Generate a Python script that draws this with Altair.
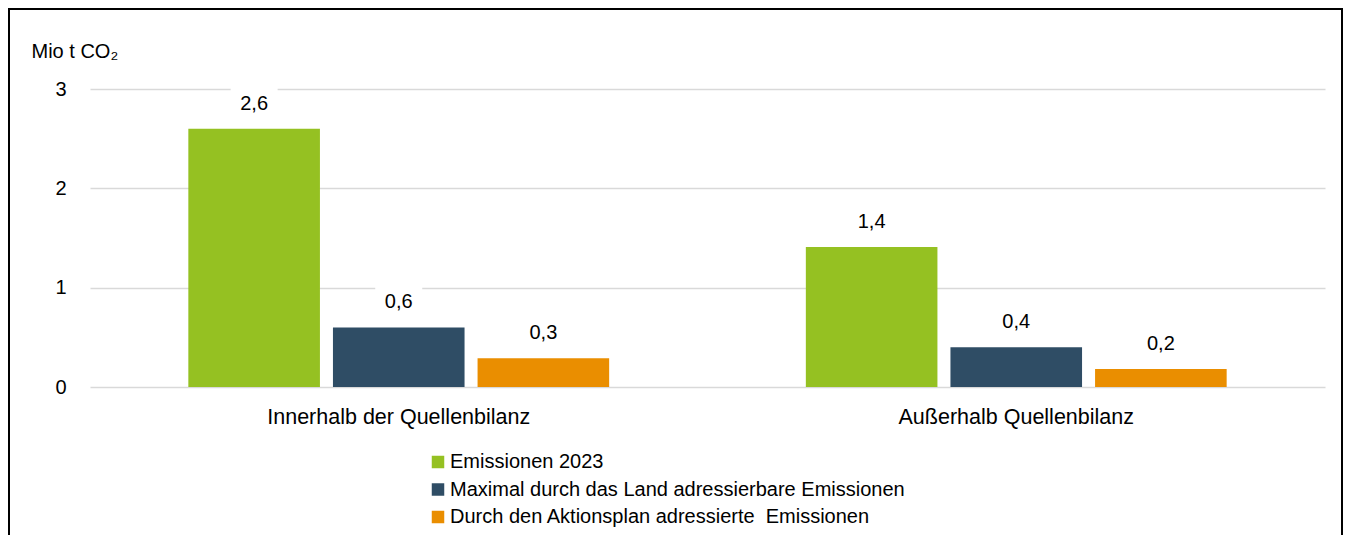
import altair as alt
import pandas as pd

FONT = "Liberation Sans"

categories = ["Innerhalb der Quellenbilanz", "Außerhalb Quellenbilanz"]
series = [
    "Emissionen 2023",
    "Maximal durch das Land adressierbare Emissionen",
    "Durch den Aktionsplan adressierte\u00a0 Emissionen",
]
colors = ["#95C122", "#2F4D65", "#EA8E00"]

values_inner = [2.6, 0.6, 0.29]
values_outer = [1.41, 0.4, 0.18]
labels_inner = ["2,6", "0,6", "0,3"]
labels_outer = ["1,4", "0,4", "0,2"]

rows = []
for cat, vals, labs in [
    (categories[0], values_inner, labels_inner),
    (categories[1], values_outer, labels_outer),
]:
    for s, v, l in zip(series, vals, labs):
        rows.append({"Kategorie": cat, "Reihe": s, "Wert": v, "Label": l})
df = pd.DataFrame(rows)

x_enc = alt.X(
    "Kategorie:N",
    sort=categories,
    scale=alt.Scale(paddingInner=0, paddingOuter=0),
    axis=alt.Axis(
        title=None, labelAngle=0, labelFontSize=21.5, labelPadding=19, labelLimit=0,
        domain=False, ticks=False, labelColor="#000", labelFont=FONT, grid=False,
    ),
)
xo_enc = alt.XOffset(
    "Reihe:N", sort=series, scale=alt.Scale(paddingInner=0.09, paddingOuter=0.68)
)
y_enc = alt.Y(
    "Wert:Q",
    scale=alt.Scale(domain=[0, 3], nice=False),
    axis=alt.Axis(
        values=[0, 1, 2, 3], format="d",
        title="Mio t CO₂", titleAngle=0, titleAlign="left", titleBaseline="alphabetic",
        titleX=-59, titleY=-32, titleFontSize=20, titleFontWeight="normal",
        titleFont=FONT, titleColor="#000",
        labelFontSize=20, labelPadding=24, labelColor="#000", labelFont=FONT,
        domain=False, ticks=False, grid=True, gridColor="#d9d9d9", gridWidth=1.5,
    ),
)

base = alt.Chart(df).encode(x=x_enc, xOffset=xo_enc, y=y_enc)

bars = base.mark_bar().encode(
    color=alt.Color(
        "Reihe:N",
        sort=series,
        scale=alt.Scale(domain=series, range=colors),
        legend=alt.Legend(
            title=None, orient="none", legendX=338, legendY=363, direction="vertical",
            symbolType="square", symbolSize=156, symbolStrokeWidth=0,
            labelFontSize=20, labelFont=FONT, labelColor="#000",
            rowPadding=7.5, labelOffset=2, labelLimit=0, padding=0,
        ),
    )
)

boxes = base.mark_point(
    shape="M-1,-0.68L1,-0.68L1,0.68L-1,0.68Z",
    size=2209, filled=True, color="white", opacity=1, yOffset=-25,
)

texts = base.mark_text(
    dy=-25, baseline="middle", align="center", fontSize=20, font=FONT, color="#000"
).encode(text="Label:N")

border = alt.Chart(pd.DataFrame({"k": [0]})).mark_rect(
    fill="transparent", stroke="#000", strokeWidth=2
).encode(
    x=alt.value(-81), x2=alt.value(1252), y=alt.value(-80), y2=alt.value(700)
)

chart = alt.layer(border, bars, boxes, texts).properties(
    width=1235,
    height=298,
    autosize="none",
    padding={"left": 82, "top": 81, "right": 18, "bottom": 148},
).configure(font=FONT).configure_view(strokeWidth=0, stroke="transparent")

chart.save("out.html", embed_options={"renderer": "svg", "actions": False})
